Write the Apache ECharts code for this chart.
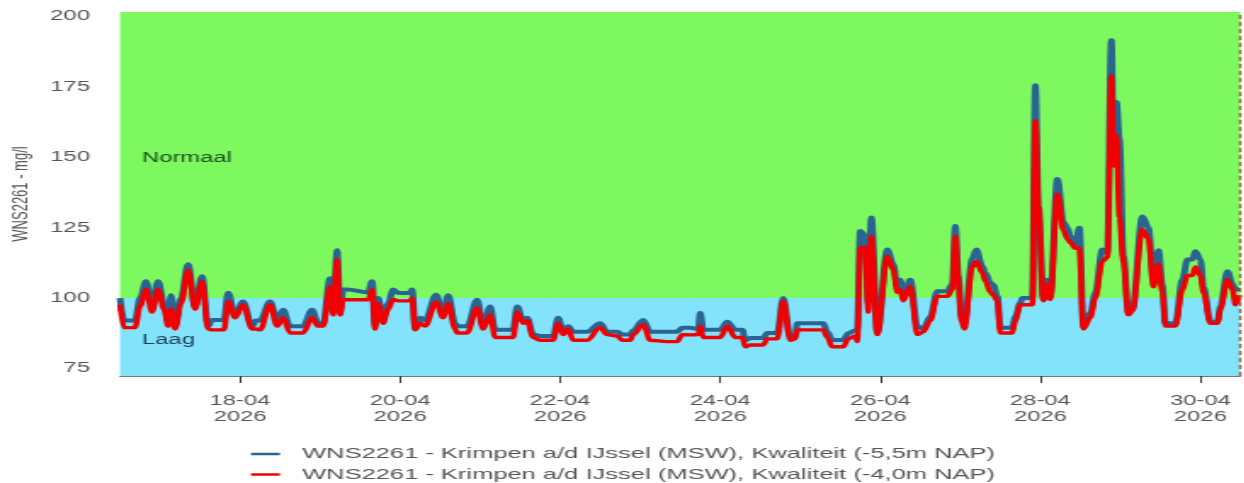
<!DOCTYPE html>
<html>
<head>
<meta charset="utf-8">
<script src="https://cdn.jsdelivr.net/npm/echarts@6/dist/echarts.min.js"></script>
<style>
  html, body { margin: 0; padding: 0; background: #fff; overflow: hidden; }
  #main { height: 483px; transform-origin: 0 0; }
</style>
</head>
<body>
<div id="main"></div>
<script>
// de bron-afbeelding is horizontaal uitgerekt, dus we tekenen smal en rekken op
const stretch = 1.7;

const startTime = Date.UTC(2026, 3, 16, 12); // 16-04-2026 12:00
const endHours = 336;

// uren sinds startTime
const hours = [0,1.2,4.5,6,7.8,9.6,11.4,13.2,14.4,15.3,
  16.5,18.3,20.4,22.5,24.6,26.4,27.6,31.2,32.4,34.5,
  36.9,39.6,40.8,42,45,47.1,48.9,51,54.9,57.6,
  59.4,60.9,63,63.9,65.1,66,66.9,68.1,74.4,75.6,
  76.5,77.4,78.9,80.4,81.9,83.4,87,87.6,88.5,90,
  91.5,94.8,96.9,98.4,100.5,101.1,104.1,107.1,108.9,111,
  112.5,117.9,119.1,120.9,122.1,123.9,126,129.9,131.4,132.9,
  134.4,135.9,140.1,144,146.1,149.1,150.6,153,153.9,156.9,
  159,164.1,167.1,168.6,171,173.4,174,174.9,180,182.1,
  184.5,186.6,187.5,189,192.9,194.1,197.1,198.9,201,202.5,
  203.1,210.9,212.1,213.6,216.9,218.4,220.5,221.1,222,223.5,
  224.4,225.3,227.1,230.1,231.9,233.1,234,234.9,237,239.1,
  240.9,243,245.1,248.1,249.6,250.5,251.4,252.3,253.2,255.6,
  256.8,258.6,259.5,261,261.9,263.1,264,267.6,268.5,270,
  270.6,273.6,274.5,275.4,276.9,278.1,279,281.1,282.9,284.1,
  285,286.5,287.7,288.9,291,292.5,294.6,296.1,297.3,297.9,
  298.8,299.7,300.9,302.4,303.6,306.6,308.4,309.9,311.4,312.6,
  313.5,316.5,318.6,320.1,321.6,322.5,324,324.9,327,329.1,
  330,332.1,333.6,334.5,335.7];

// -5,5m NAP
const deepVals = [100,92,92,100,106,97,106,98,92,101,
  90,100,112,97,107.7,90,92.2,92.2,101.9,94,
  98.8,90,92,92,98.8,92,95.8,90,90,95.8,
  91,91,107,95,117,95,103,103,102,106,
  90,100,92.8,98,103,101.8,101.8,103,89,93,
  92,101.2,94,101,91,90,90,99.4,90,97,
  88.7,88.7,97,92,93,87,86.5,86.5,93,88,
  90,88,88,91,88,88,87,87,88.5,92.2,
  88,88,88,89.4,89.4,89,94.7,88.7,88.7,91.6,
  88.7,88.7,85,85.8,85.8,87.6,87.6,100,86,86.5,
  91,91,88,85.1,85.1,87.5,88.5,89,123.8,122,
  98,128.6,87.6,117.2,112,104,106.5,100,106.5,90,
  89,93.4,102.4,102.4,105,125.6,108,93.4,91,114,
  117.2,111.3,109,105.4,104.6,100.6,89.4,89.4,93.4,98.3,
  100,100,175.6,133,99.4,106.5,101,142.3,127,125,
  122,119,125,90,94.7,102,117.2,116,191.6,158,
  169.6,156.5,115,94.7,96,129,125,106.5,117,104.5,
  91,91,106.5,113.7,113.7,116.6,113.7,104,91.6,91.6,
  97,109.5,105,103,103];

// -4,0m NAP
const shallowVals = [97.6,89.5,89.5,97,103,95,103,96,90,96,
  89,98,110,96,106,89,88.7,88.7,98.8,93,
  97.6,89,89,88.7,97.6,90,93,87.6,87.6,93,
  90,90,104,94,113.7,94,99.5,99.4,99.4,103,
  89,98,91,96,99.5,99,99,100,88.7,91,
  90,98.5,93,98,89,87.6,87.6,96.5,89,94,
  86,86,95,91,92,86,85,85,91,87,
  89,85,85,89.5,87,86.5,85,85,87,90.5,
  85,84.5,84.5,87,86.9,87,90,86,86,90,
  86,86,82.7,83.3,83.3,85.5,85.5,99,85,85.5,
  88.7,88.7,86,82.7,82.7,85.5,86.5,84.5,118,118,
  95,122,87,114.8,110,102,103,99,104,87,
  88,92,100.6,100.6,103,122,106,92,89,111,
  113,109,106,102,101,99,87.6,87.6,92,97.6,
  97.6,97.6,163,132.7,99,105,99.5,137,124,121,
  119.7,117.7,117.7,89,93,100,113,114.5,179,147,
  157.7,128.6,113,94,95.5,124.4,121,104,112,102,
  90,90,103,108,108,111,108,102,91,91,
  96,106.5,103,97.6,101];

const seriesNames = [
  'WNS2261 - Krimpen a/d IJssel (MSW), Kwaliteit (-5,5m NAP)',
  'WNS2261 - Krimpen a/d IJssel (MSW), Kwaliteit (-4,0m NAP)'
];
const yTicks = [75, 100, 125, 150, 175, 200];
const xTickDays = [18, 20, 22, 24, 26, 28, 30];
const yMin = 72.3, yMax = 201.6, threshold = 100;
const zones = [
  { name: 'Normaal', from: threshold, to: yMax },
  { name: 'Laag', from: yMin, to: threshold }
];

const HOUR = 3600 * 1000;
const toPairs = vals => vals.map((v, i) => [startTime + hours[i] * HOUR, v]);
const xTicks = xTickDays.map(d => Date.UTC(2026, 3, d));

const el = document.getElementById('main');
el.style.width = (1244 / stretch) + 'px';
el.style.transform = 'scaleX(' + stretch + ')';

const chart = echarts.init(el);
const font = 'Liberation Sans, Arial, sans-serif';

chart.setOption({
  animation: false,
  textStyle: { fontFamily: font },
  grid: {
    left: 120 / stretch,
    right: 4 / stretch,
    top: 12,
    bottom: 107,
    containLabel: false,
    outerBoundsMode: 'none'
  },
  legend: {
    orient: 'vertical',
    left: 251 / stretch,
    top: 446,
    padding: 0,
    itemWidth: 17,
    itemHeight: 2.5,
    itemGap: 4.5,
    icon: 'rect',
    textStyle: { color: '#555', fontSize: 15, lineHeight: 16, padding: [0, 0, 0, 8] },
    data: seriesNames
  },
  xAxis: {
    type: 'value',
    min: startTime,
    max: startTime + endHours * HOUR,
    splitLine: { show: false },
    axisLine: { lineStyle: { color: '#777', width: 1 } },
    axisTick: { customValues: xTicks, length: 7, lineStyle: { color: '#333' } },
    axisLabel: {
      customValues: xTicks,
      color: '#555',
      fontSize: 14,
      lineHeight: 16,
      margin: 17,
      formatter: function (val) {
        const d = new Date(val);
        const dd = String(d.getUTCDate()).padStart(2, '0');
        const mm = String(d.getUTCMonth() + 1).padStart(2, '0');
        return dd + '-' + mm + '\n' + d.getUTCFullYear();
      }
    }
  },
  yAxis: {
    type: 'value',
    min: yMin,
    max: yMax,
    name: 'WNS2261 - mg/l',
    nameLocation: 'middle',
    nameGap: 52,
    nameTextStyle: { color: '#555', fontSize: 13 },
    splitLine: { show: false },
    axisLine: { show: false },
    axisTick: { show: false },
    axisLabel: { customValues: yTicks, color: '#555', fontSize: 14, margin: 30 / stretch }
  },
  series: [
    {
      name: seriesNames[0],
      type: 'line',
      data: toPairs(deepVals),
      showSymbol: false,
      symbol: 'none',
      smooth: 0.35,
      smoothMonotone: 'x',
      color: '#2b6490',
      lineStyle: { width: 4, color: '#2b6490' },
      z: 3,
      markArea: {
        silent: true,
        data: zones.map((zn, i) => [
          {
            name: zn.name,
            coord: [startTime, zn.from],
            itemStyle: { color: i === 0 ? '#7df95f' : '#82e3fb' },
            label: {
              show: true,
              position: 'insideLeft',
              distance: 22 / stretch,
              offset: [0, 3],
              fontSize: 14,
              color: i === 0 ? '#1e4d1e' : '#1d3f5c'
            }
          },
          { coord: [startTime + endHours * HOUR, zn.to] }
        ])
      }
    },
    {
      name: seriesNames[1],
      type: 'line',
      data: toPairs(shallowVals),
      showSymbol: false,
      symbol: 'none',
      smooth: 0.35,
      smoothMonotone: 'x',
      color: '#f00000',
      lineStyle: { width: 3.4, color: '#f00000' },
      z: 4,
      markLine: {
        silent: true,
        symbol: 'none',
        label: { show: false },
        lineStyle: { color: '#a8542a', type: [4, 3], width: 1.4 },
        data: [{ xAxis: startTime + endHours * HOUR - 0.3 * HOUR }]
      }
    }
  ]
});
</script>
</body>
</html>
